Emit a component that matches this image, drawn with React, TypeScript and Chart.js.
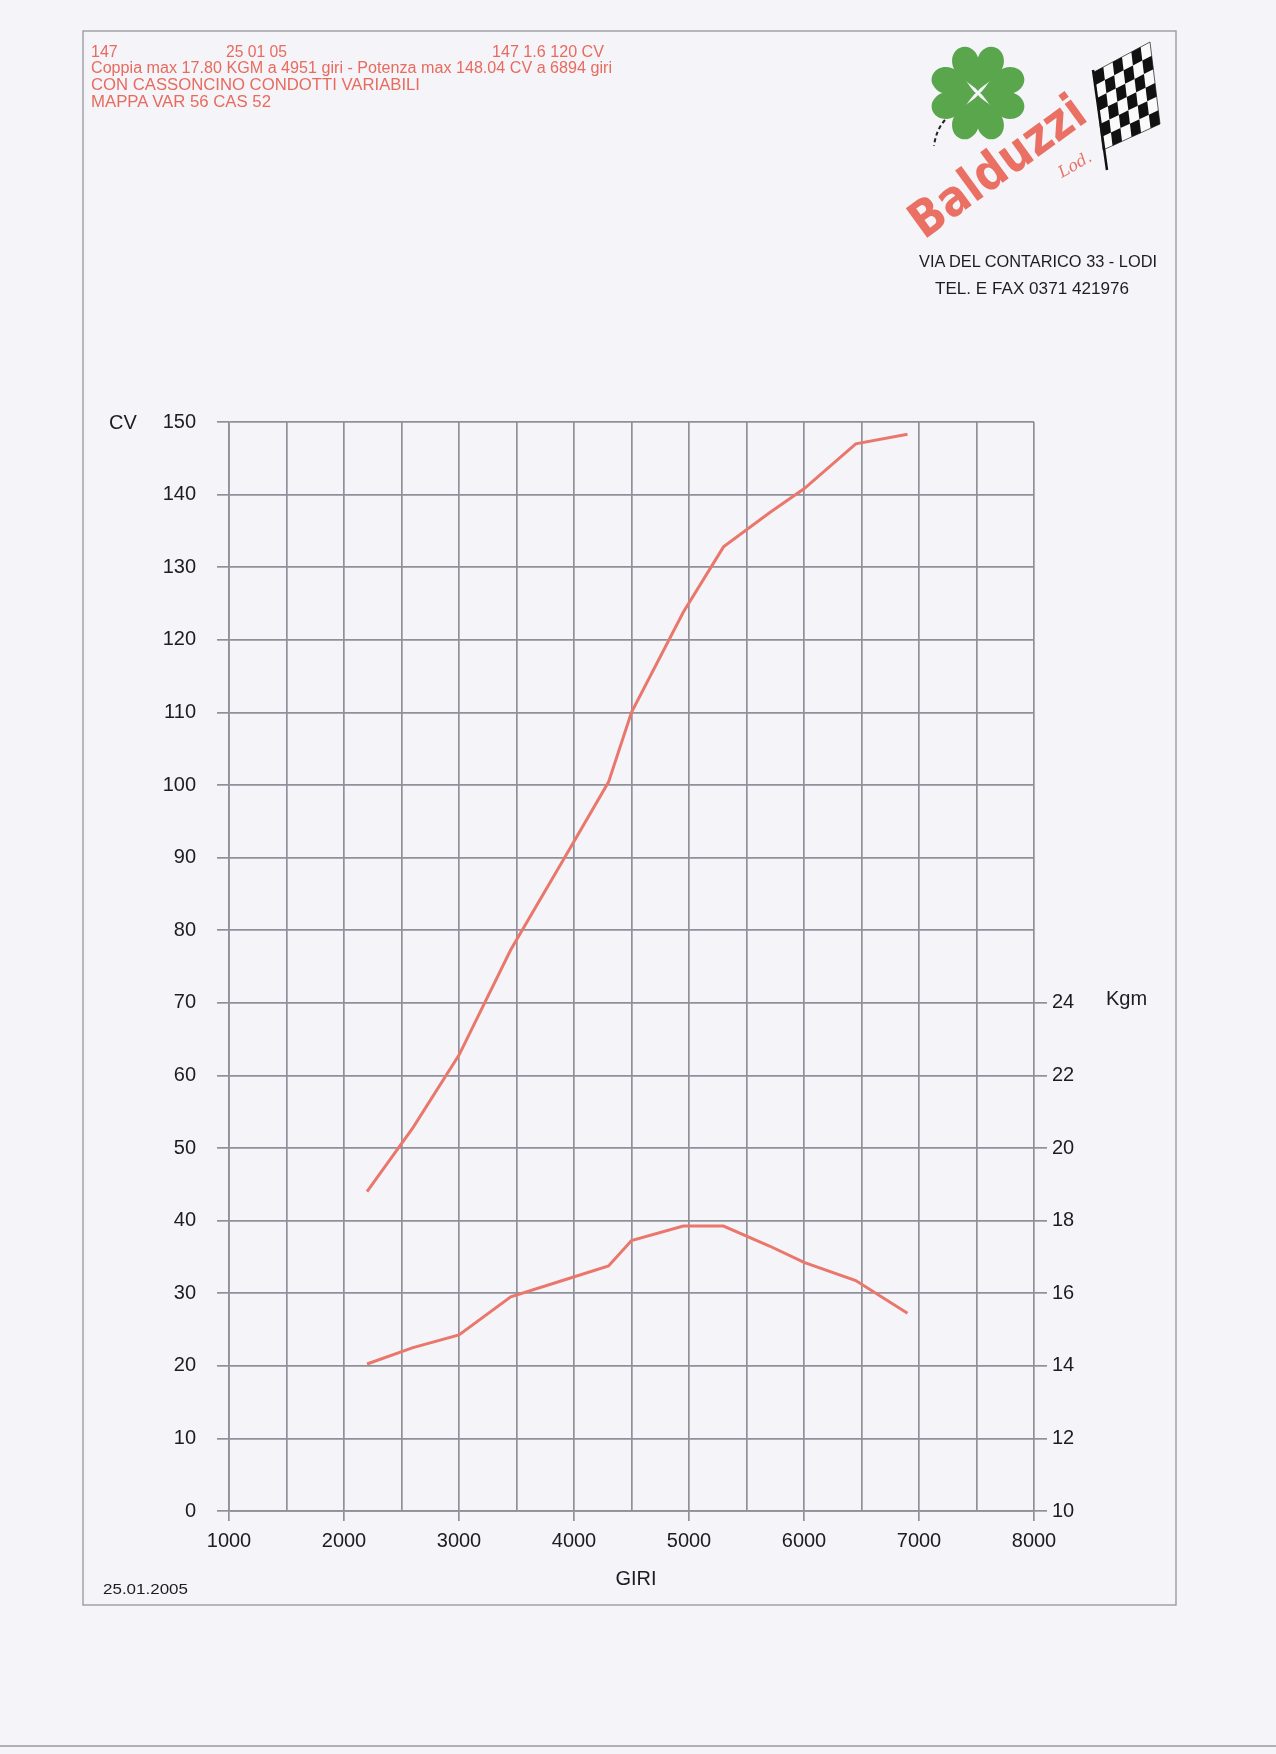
import React, { useEffect, useRef } from "react";
import { Chart, registerables } from "chart.js";

Chart.register(...registerables);

// ---- data read from the dyno sheet ----
const RPM = [2200, 2600, 3000, 3450, 3900, 4300, 4500, 4950, 5300, 5700, 6000, 6450, 6900];
const POWER_CV = [44, 52.8, 62.8, 77.3, 89.5, 100.4, 110, 123.8, 132.8, 137.5, 140.8, 147, 148.3];
const TORQUE_KGM = [14.05, 14.5, 14.85, 15.9, 16.35, 16.75, 17.45, 17.85, 17.85, 17.3, 16.85, 16.35, 15.45];

const X_LABELS = [1000, 2000, 3000, 4000, 5000, 6000, 7000, 8000];
const KGM_LABELS = [10, 12, 14, 16, 18, 20, 22, 24];

const HEADER_LINES = [
  "Coppia max 17.80 KGM a 4951 giri - Potenza max 148.04 CV a 6894 giri",
  "CON CASSONCINO CONDOTTI VARIABILI",
  "MAPPA VAR 56 CAS 52",
];

const GRID = "#90909b";
const CURVE = "#ea776c";
const RED_TEXT = "#e86b5e";
const FONT = '"Liberation Sans", Arial, Helvetica, sans-serif';

function lerp(a: number[], b: number[], t: number) {
  return [a[0] + (b[0] - a[0]) * t, a[1] + (b[1] - a[1]) * t];
}

function Flag() {
  const tl = [1094, 72];
  const tr = [1150, 42];
  const br = [1160, 124];
  const bl = [1103, 150];
  const n = 6;
  const pt = (u: number, v: number) => lerp(lerp(tl, tr, u), lerp(bl, br, u), v);
  const cells: JSX.Element[] = [];
  for (let i = 0; i < n; i++) {
    for (let j = 0; j < n; j++) {
      if ((i + j) % 2 !== 0) continue;
      const p = [pt(i / n, j / n), pt((i + 1) / n, j / n), pt((i + 1) / n, (j + 1) / n), pt(i / n, (j + 1) / n)];
      cells.push(
        <polygon key={`${i}-${j}`} points={p.map((q) => q.join(",")).join(" ")} fill="#111" />
      );
    }
  }
  return (
    <g>
      <polygon
        points={[tl, tr, br, bl].map((q) => q.join(",")).join(" ")}
        fill="#fafafa"
        stroke="#333"
        strokeWidth={0.8}
      />
      {cells}
      <line x1={1093} y1={70} x2={1107} y2={170} stroke="#111" strokeWidth={2.5} />
    </g>
  );
}

function Clover() {
  const heart =
    "M0,0 C -4,-6 -22,-12 -22,-25 C -22,-35 -13,-39 -7,-36 C -3,-34 -1,-31 0,-28 C 1,-31 3,-34 7,-36 C 13,-39 22,-35 22,-25 C 22,-12 4,-6 0,0 Z";
  const cx = 978;
  const cy = 93;
  return (
    <g>
      {[0, 90, 180, 270].map((r) => (
        <path
          key={r}
          d={heart}
          fill="#5aa64c"
          transform={`translate(${cx},${cy}) rotate(${r}) translate(0,-2) scale(1.18,1.2)`}
        />
      ))}
      <path d="M945,120 Q936,130 934,146" fill="none" stroke="#222" strokeWidth={2} strokeDasharray="4 3" />
    </g>
  );
}

export default function App() {
  const ref = useRef<HTMLCanvasElement>(null);

  useEffect(() => {
    if (!ref.current) return;
    const chart = new Chart(ref.current, {
      type: "line",
      data: {
        datasets: [
          {
            label: "CV",
            data: RPM.map((r, i) => ({ x: r, y: POWER_CV[i] })),
            borderColor: CURVE,
            borderWidth: 3,
            pointRadius: 0,
            tension: 0,
            yAxisID: "y",
          },
          {
            label: "Kgm",
            data: RPM.map((r, i) => ({ x: r, y: TORQUE_KGM[i] })),
            borderColor: CURVE,
            borderWidth: 3,
            pointRadius: 0,
            tension: 0,
            yAxisID: "y1",
          },
        ],
      },
      options: {
        responsive: false,
        animation: false,
        devicePixelRatio: 1,
        layout: { padding: { left: 89, right: 142, top: 422, bottom: 183 } },
        plugins: { legend: { display: false }, tooltip: { enabled: false } },
        scales: {
          x: {
            type: "linear",
            min: 1000,
            max: 8000,
            ticks: {
              stepSize: 500,
              autoSkip: false,
              maxRotation: 0,
              padding: 8,
              color: "#1d1d1d",
              font: { family: FONT, size: 20 },
              callback: (v: any) => (X_LABELS.includes(Number(v)) ? String(v) : ""),
            },
            grid: {
              color: GRID,
              lineWidth: 1.7,
              tickLength: 10,
              tickColor: (ctx: any) =>
                ctx.tick && X_LABELS.includes(ctx.tick.value) ? GRID : "rgba(0,0,0,0)",
            },
            border: { color: GRID, width: 1.7 },
            afterFit: (s: any) => {
              s.height = 60;
            },
          },
          y: {
            position: "left",
            min: 0,
            max: 150,
            ticks: {
              stepSize: 10,
              autoSkip: false,
              padding: 21,
              color: "#1d1d1d",
              font: { family: FONT, size: 20 },
            },
            grid: { color: GRID, lineWidth: 1.7, tickLength: 12, tickColor: GRID },
            border: { color: GRID, width: 1.7 },
            afterFit: (s: any) => {
              s.width = 140;
            },
          },
          y1: {
            position: "right",
            min: 10,
            max: 40,
            ticks: {
              stepSize: 2,
              autoSkip: false,
              padding: 5,
              color: "#1d1d1d",
              font: { family: FONT, size: 20 },
              callback: (v: any) => (KGM_LABELS.includes(Number(v)) ? String(v) : ""),
            },
            grid: {
              drawOnChartArea: false,
              tickLength: 13,
              lineWidth: 1.7,
              color: (ctx: any) =>
                ctx.tick && KGM_LABELS.includes(ctx.tick.value) ? GRID : "rgba(0,0,0,0)",
              tickColor: (ctx: any) =>
                ctx.tick && KGM_LABELS.includes(ctx.tick.value) ? GRID : "rgba(0,0,0,0)",
            },
            border: { display: false },
            afterFit: (s: any) => {
              s.width = 100;
            },
          },
        },
      },
    });
    return () => chart.destroy();
  }, []);

  return (
    <div
      style={{
        position: "absolute",
        left: 0,
        top: 0,
        width: 1276,
        height: 1754,
        background: "#f4f4f9",
        overflow: "hidden",
      }}
    >
      <canvas
        ref={ref}
        width={1276}
        height={1754}
        style={{ position: "absolute", left: 0, top: 0, width: 1276, height: 1754 }}
      />
      <svg
        width={1276}
        height={1754}
        style={{ position: "absolute", left: 0, top: 0, pointerEvents: "none" }}
      >
        {/* page frame */}
        <rect x={83} y={31} width={1093} height={1574} fill="none" stroke="#9c9ca4" strokeWidth={1.4} />
        <line x1={0} y1={1746} x2={1276} y2={1746} stroke="#9a9aa0" strokeWidth={1.5} />

        {/* header text */}
        <g fill={RED_TEXT} fontFamily={FONT} fontSize={16}>
          <text x={91} y={57}>147</text>
          <text x={226} y={57} textLength={61} lengthAdjust="spacingAndGlyphs">25 01 05</text>
          <text x={492} y={57} textLength={112} lengthAdjust="spacingAndGlyphs">147 1.6 120 CV</text>
          <text x={91} y={73} textLength={521} lengthAdjust="spacingAndGlyphs">{HEADER_LINES[0]}</text>
          <text x={91} y={90} textLength={329} lengthAdjust="spacingAndGlyphs">{HEADER_LINES[1]}</text>
          <text x={91} y={107} textLength={180} lengthAdjust="spacingAndGlyphs">{HEADER_LINES[2]}</text>
        </g>

        {/* logo */}
        <Clover />
        <Flag />
        <text
          x={924}
          y={240}
          transform="rotate(-36 924 240)"
          fill="#ea7064"
          fontFamily='"DejaVu Sans", sans-serif'
          fontWeight={600}
          fontSize={50}
          textLength={205}
          lengthAdjust="spacingAndGlyphs"
        >
          Balduzzi
        </text>
        <text
          x={1062}
          y={178}
          transform="rotate(-30 1062 178)"
          fill="#ea7064"
          fontFamily='"DejaVu Serif", serif'
          fontStyle="italic"
          fontSize={16}
        >
          Lod.
        </text>
        <g fill="#1e1e1e" fontFamily={FONT} fontSize={17}>
          <text x={919} y={267} textLength={238} lengthAdjust="spacingAndGlyphs">VIA DEL CONTARICO 33 - LODI</text>
          <text x={935} y={294} textLength={194} lengthAdjust="spacingAndGlyphs">TEL. E FAX  0371 421976</text>
        </g>

        {/* axis captions */}
        <g fill="#1d1d1d" fontFamily={FONT} fontSize={20}>
          <text x={109} y={429}>CV</text>
          <text x={1106} y={1005}>Kgm</text>
          <text x={636} y={1585} textAnchor="middle">GIRI</text>
        </g>
        <text x={103} y={1594} fill="#1d1d1d" fontFamily={FONT} fontSize={15} textLength={85} lengthAdjust="spacingAndGlyphs">
          25.01.2005
        </text>
      </svg>
    </div>
  );
}
